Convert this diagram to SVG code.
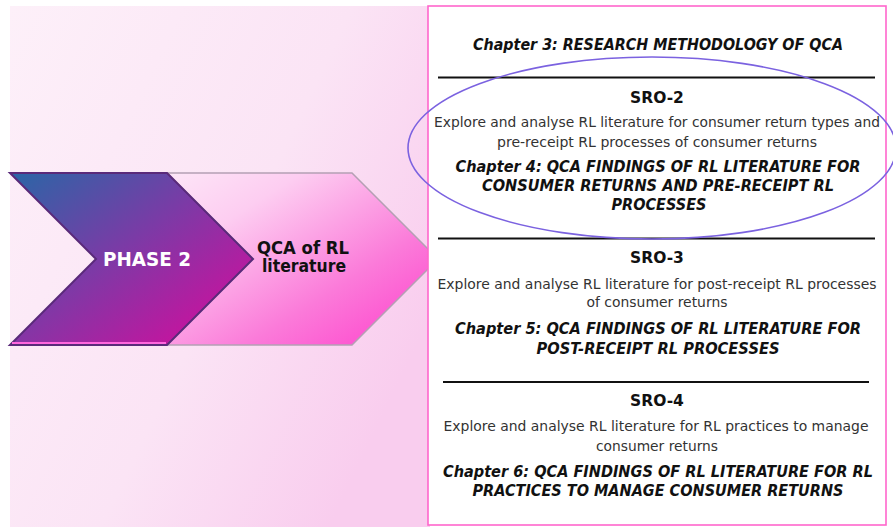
<svg xmlns="http://www.w3.org/2000/svg" width="893" height="527" viewBox="0 0 893 527">
<defs>
<linearGradient id="bg" x1="0" y1="0" x2="1" y2="0.6">
<stop offset="0" stop-color="#fdf0f9"/>
<stop offset="0.6" stop-color="#fbe4f5"/>
<stop offset="1" stop-color="#f9cdee"/>
</linearGradient>
<linearGradient id="g1" x1="0" y1="0" x2="1" y2="1">
<stop offset="0" stop-color="#2a66a6"/>
<stop offset="0.45" stop-color="#7c3aa6"/>
<stop offset="1" stop-color="#e0069c"/>
</linearGradient>
<linearGradient id="g2" x1="0" y1="0" x2="1" y2="1">
<stop offset="0" stop-color="#fde6f7"/>
<stop offset="0.25" stop-color="#fdcdf1"/>
<stop offset="0.65" stop-color="#fb7ad9"/>
<stop offset="1" stop-color="#ff3ccb"/>
</linearGradient>
<style>
.t{font-family:"DejaVu Sans",Verdana,sans-serif;fill:#222;text-anchor:middle;}
.n{font-size:14.5px;fill:#333;}
.b{font-size:15.5px;font-weight:bold;fill:#111;}
.c{font-size:15px;font-weight:bold;font-style:italic;fill:#111;}
.rule{stroke:#111;stroke-width:2;}
</style>
</defs>
<rect x="10" y="6" width="420" height="521" fill="url(#bg)"/>
<g id="chevron2">
<polygon points="167,173 352,173 438,259 352,345 167,345 253,259" fill="url(#g2)" stroke="#b4a0b4" stroke-width="1.5"/>
<text class="t" x="303" y="254" font-size="17.5" font-weight="bold" style="fill:#111" textLength="92" lengthAdjust="spacingAndGlyphs">QCA of RL</text>
<text class="t" x="304" y="272" font-size="17.5" font-weight="bold" style="fill:#111" textLength="84" lengthAdjust="spacingAndGlyphs">literature</text>
</g>
<g id="chevron1">
<polygon points="10,173 167,173 253,259 167,345 10,345 96,259" fill="url(#g1)" stroke="#5a2a7a" stroke-width="2"/>
<polyline points="12,343 166,343" stroke="#ff66dd" stroke-width="2" fill="none"/>
<text class="t" x="147" y="266" font-size="19.5" font-weight="bold" style="fill:#fff" textLength="88" lengthAdjust="spacingAndGlyphs">PHASE 2</text>
</g>
<g id="box">
<rect x="428" y="6" width="458" height="519" fill="#fff" stroke="#ff66cc" stroke-width="1.6"/>
<text class="t c" x="658" y="50" textLength="370" lengthAdjust="spacingAndGlyphs">Chapter 3: RESEARCH METHODOLOGY OF QCA</text>
<line class="rule" x1="438" y1="77.5" x2="875" y2="77.5"/>
<text class="t b" x="657" y="103">SRO-2</text>
<text class="t n" x="657" y="127" textLength="446" lengthAdjust="spacingAndGlyphs">Explore and analyse RL literature for consumer return types and</text>
<text class="t n" x="657" y="147" textLength="320" lengthAdjust="spacingAndGlyphs">pre-receipt RL processes of consumer returns</text>
<text class="t c" x="658" y="172" textLength="405" lengthAdjust="spacingAndGlyphs">Chapter 4: QCA FINDINGS OF RL LITERATURE FOR</text>
<text class="t c" x="658" y="191" textLength="352" lengthAdjust="spacingAndGlyphs">CONSUMER RETURNS AND PRE-RECEIPT RL</text>
<text class="t c" x="659" y="210" textLength="95" lengthAdjust="spacingAndGlyphs">PROCESSES</text>
<line class="rule" x1="438" y1="238.5" x2="875" y2="238.5"/>
<text class="t b" x="657" y="263">SRO-3</text>
<text class="t n" x="657" y="289" textLength="439" lengthAdjust="spacingAndGlyphs">Explore and analyse RL literature for post-receipt RL processes</text>
<text class="t n" x="657" y="307" textLength="141" lengthAdjust="spacingAndGlyphs">of consumer returns</text>
<text class="t c" x="658" y="334" textLength="406" lengthAdjust="spacingAndGlyphs">Chapter 5: QCA FINDINGS OF RL LITERATURE FOR</text>
<text class="t c" x="658" y="354" textLength="243" lengthAdjust="spacingAndGlyphs">POST-RECEIPT RL PROCESSES</text>
<line class="rule" x1="443" y1="382" x2="869" y2="382"/>
<text class="t b" x="657" y="406">SRO-4</text>
<text class="t n" x="656" y="431" textLength="425" lengthAdjust="spacingAndGlyphs">Explore and analyse RL literature for RL practices to manage</text>
<text class="t n" x="657" y="451" textLength="122" lengthAdjust="spacingAndGlyphs">consumer returns</text>
<text class="t c" x="658" y="477" textLength="430" lengthAdjust="spacingAndGlyphs">Chapter 6: QCA FINDINGS OF RL LITERATURE FOR RL</text>
<text class="t c" x="658" y="496" textLength="371" lengthAdjust="spacingAndGlyphs">PRACTICES TO MANAGE CONSUMER RETURNS</text>
</g>
<g id="highlight">
<ellipse cx="652" cy="148" rx="244" ry="91" fill="none" stroke="#7b62e0" stroke-width="1.6"/>
</g>
</svg>
